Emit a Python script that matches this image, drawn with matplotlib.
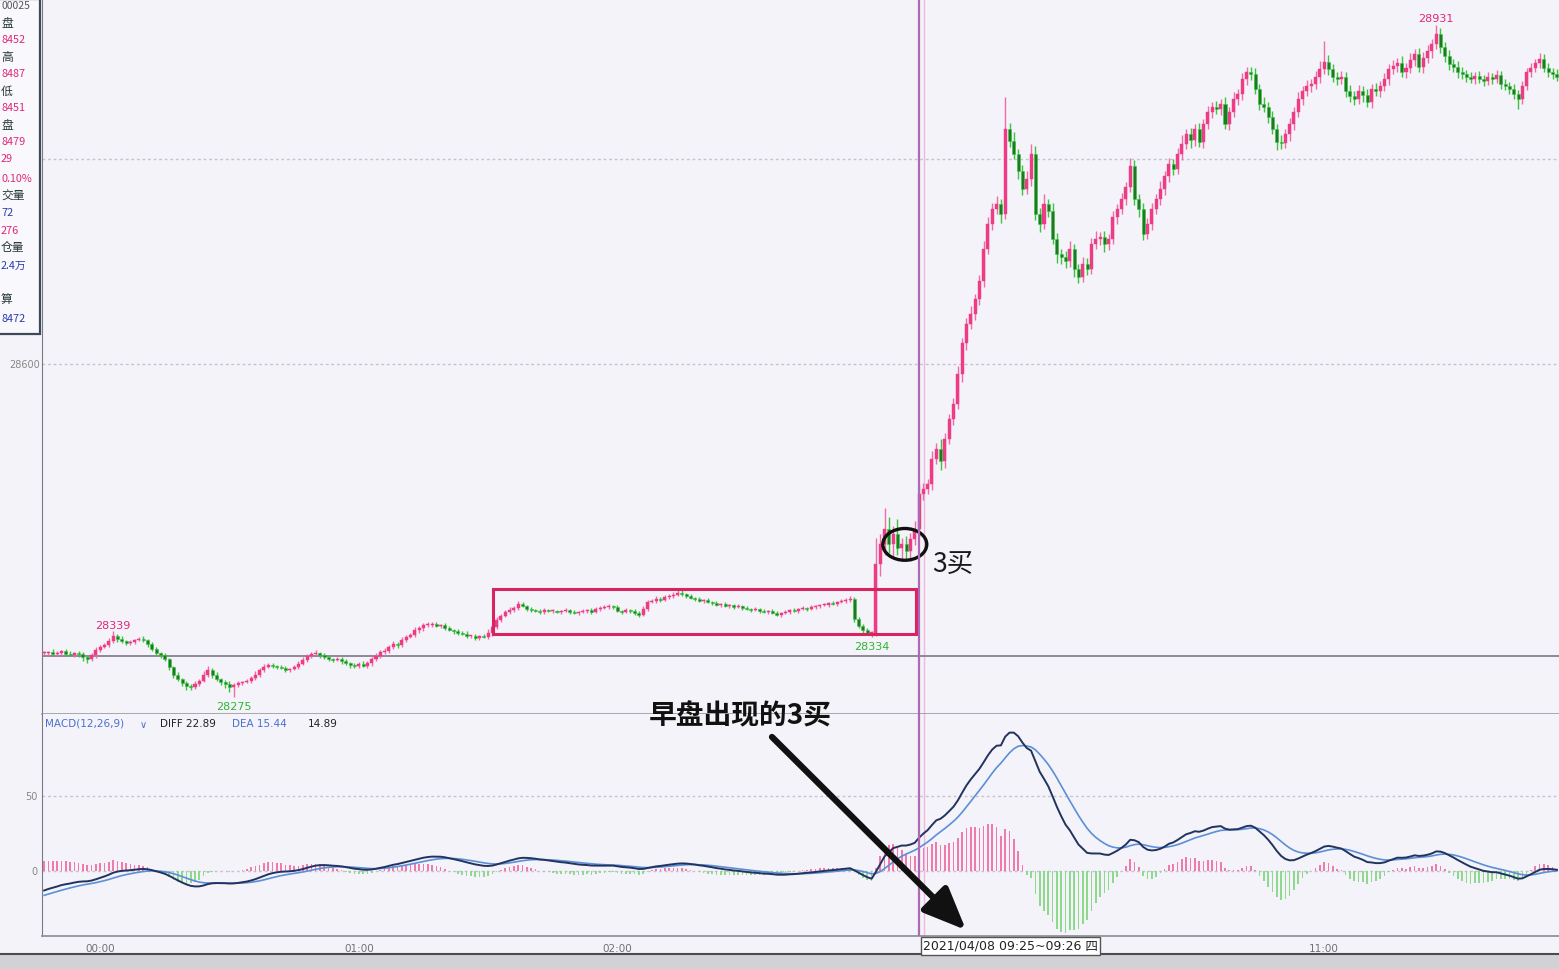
import numpy as np
import matplotlib
matplotlib.use("Agg")
import matplotlib.pyplot as plt
from matplotlib.patches import Rectangle, Ellipse, FancyArrowPatch
from matplotlib.lines import Line2D

plt.rcParams['font.family'] = ['Noto Sans CJK SC', 'DejaVu Sans']

# ---------------- data ----------------
BASE = 28000
FIRST_OPEN = 318
CLOSE_OFFSETS = [
    318, 319, 317, 318, 320, 317, 316, 318, 317, 314,
    312, 316, 321, 324, 326, 330, 335, 332, 330, 328,
    329, 331, 332, 331, 327, 322, 318, 316, 312, 304,
    297, 293, 289, 286, 285, 288, 291, 297, 301, 297,
    293, 290, 288, 285, 287, 289, 290, 291, 294, 297,
    301, 304, 306, 305, 304, 303, 301, 302, 304, 307,
    311, 315, 317, 318, 316, 314, 312, 311, 312, 310,
    308, 306, 305, 307, 305, 308, 312, 315, 319, 320,
    324, 327, 326, 331, 334, 336, 340, 342, 345, 345,
    346, 344, 345, 342, 340, 339, 338, 337, 335, 335,
    333, 335, 334, 338, 343, 350, 354, 358, 360, 362,
    366, 364, 361, 360, 359, 358, 360, 359, 359, 358,
    359, 360, 358, 357, 358, 359, 360, 358, 361, 362,
    363, 364, 363, 359, 358, 360, 359, 357, 355, 361,
    368, 369, 371, 370, 373, 374, 375, 377, 376, 374,
    372, 371, 369, 370, 368, 367, 365, 366, 364, 365,
    363, 364, 362, 361, 360, 361, 359, 358, 359, 357,
    355, 357, 358, 360, 359, 361, 362, 361, 363, 364,
    365, 365, 367, 366, 368, 369, 370, 371, 351, 344,
    340, 338, 338, 405, 424, 439, 424, 434, 420, 424,
    418, 429, 439, 473, 478, 483, 507, 517, 505, 527,
    546, 561, 590, 620, 639, 649, 663, 681, 712, 737,
    751, 756, 746, 829, 818, 805, 788, 771, 780, 805,
    746, 737, 756, 749, 722, 707, 704, 700, 712, 693,
    685, 698, 693, 717, 722, 724, 717, 722, 743, 751,
    761, 773, 793, 761, 751, 727, 737, 751, 761, 771,
    783, 795, 790, 805, 815, 824, 819, 829, 817, 834,
    846, 851, 849, 854, 834, 846, 859, 863, 878, 885,
    883, 868, 854, 851, 841, 829, 817, 816, 824, 834,
    846, 859, 866, 871, 873, 880, 888, 895, 888, 880,
    878, 880, 866, 861, 859, 866, 862, 856, 868, 866,
    871, 878, 888, 891, 894, 885, 889, 897, 902, 890,
    899, 905, 912, 922, 909, 900, 893, 890, 885, 883,
    880, 878, 881, 878, 876, 880, 878, 882, 873, 871,
    868, 863, 859, 871, 885, 889, 894, 898, 889, 885,
    883, 880,
]
UP_WICK = [
    2, 1, 3, 2, 1, 2, 3, 1, 2, 2,
    1, 2, 3, 2, 2, 3, 4, 2, 3, 1,
    2, 1, 2, 3, 1, 2, 2, 1, 2, 1,
    1, 2, 1, 2, 2, 3, 2, 3, 4, 2,
    2, 1, 2, 3, 2, 2, 1, 2, 2, 3,
    2, 3, 2, 2, 1, 2, 2, 1, 2, 3,
    3, 2, 2, 3, 1, 2, 2, 1, 2, 2,
    2, 1, 2, 2, 3, 2, 2, 3, 2, 3,
    2, 3, 2, 3, 2, 2, 3, 2, 2, 3,
    2, 2, 1, 2, 2, 1, 2, 1, 2, 1,
    2, 1, 2, 3, 2, 3, 2, 2, 3, 2,
    3, 2, 1, 2, 1, 2, 2, 1, 2, 1,
    1, 2, 1, 2, 1, 2, 1, 2, 2, 2,
    2, 2, 1, 2, 1, 2, 1, 2, 2, 3,
    2, 2, 3, 2, 2, 2, 3, 2, 2, 1,
    2, 1, 2, 1, 2, 1, 2, 1, 2, 1,
    1, 2, 1, 2, 1, 2, 1, 2, 1, 2,
    2, 1, 2, 1, 2, 1, 2, 1, 2, 1,
    1, 2, 1, 2, 1, 2, 2, 3, 2, 2,
    2, 2, 1, 25, 10, 20, 12, 8, 15, 6,
    8, 6, 8, 10, 6, 5, 8, 6, 10, 6,
    5, 6, 8, 5, 6, 8, 5, 6, 8, 6,
    6, 8, 5, 31, 6, 8, 5, 6, 8, 10,
    8, 6, 10, 5, 8, 6, 5, 6, 8, 5,
    5, 6, 5, 6, 8, 5, 6, 5, 6, 5,
    6, 5, 8, 6, 5, 6, 5, 6, 5, 8,
    5, 6, 5, 6, 8, 5, 6, 5, 6, 5,
    6, 5, 6, 5, 6, 5, 6, 5, 6, 5,
    5, 6, 5, 6, 5, 6, 5, 6, 5, 6,
    5, 6, 5, 6, 5, 6, 8, 20, 6, 5,
    5, 6, 5, 6, 5, 6, 5, 6, 5, 6,
    5, 6, 5, 6, 5, 6, 5, 6, 5, 6,
    5, 6, 5, 9, 6, 5, 6, 5, 6, 5,
    4, 5, 4, 5, 4, 5, 4, 5, 4, 5,
    4, 5, 4, 5, 4, 5, 4, 5, 4, 5,
    4, 5,
]
DOWN_WICK = [
    2, 3, 1, 2, 3, 2, 1, 2, 3, 4,
    4, 2, 3, 2, 1, 2, 2, 3, 2, 2,
    2, 2, 1, 2, 3, 2, 2, 3, 2, 3,
    3, 2, 3, 4, 3, 2, 2, 1, 2, 3,
    2, 3, 4, 5, 10, 2, 2, 1, 2, 2,
    2, 2, 1, 2, 2, 1, 2, 2, 1, 2,
    1, 2, 2, 1, 3, 2, 2, 2, 1, 3,
    2, 3, 2, 2, 1, 2, 3, 2, 2, 2,
    2, 2, 3, 2, 2, 1, 2, 2, 3, 2,
    2, 1, 2, 2, 1, 2, 2, 1, 2, 2,
    2, 2, 1, 2, 3, 2, 2, 1, 2, 2,
    2, 1, 2, 2, 1, 2, 2, 1, 2, 1,
    2, 1, 2, 1, 2, 1, 2, 2, 1, 2,
    1, 2, 2, 1, 2, 1, 2, 2, 2, 1,
    2, 1, 2, 2, 1, 2, 2, 1, 2, 2,
    1, 2, 1, 2, 1, 2, 1, 2, 1, 2,
    2, 1, 2, 1, 2, 1, 2, 1, 2, 1,
    1, 2, 1, 2, 1, 2, 1, 2, 1, 2,
    2, 1, 2, 1, 2, 1, 2, 2, 3, 2,
    2, 2, 4, 3, 12, 10, 8, 12, 6, 10,
    8, 10, 6, 8, 6, 5, 6, 5, 8, 6,
    5, 6, 5, 8, 6, 5, 6, 5, 6, 5,
    6, 5, 8, 5, 6, 5, 8, 6, 5, 6,
    6, 8, 5, 6, 5, 8, 6, 6, 5, 8,
    6, 5, 6, 5, 5, 6, 8, 6, 5, 6,
    5, 6, 5, 6, 8, 6, 5, 6, 5, 6,
    6, 5, 6, 5, 6, 5, 8, 6, 5, 6,
    5, 6, 5, 6, 5, 6, 5, 6, 5, 6,
    6, 5, 6, 5, 6, 5, 8, 6, 5, 6,
    6, 5, 6, 5, 6, 5, 6, 5, 6, 5,
    6, 5, 6, 5, 6, 5, 6, 5, 6, 5,
    6, 5, 6, 5, 6, 5, 6, 5, 6, 5,
    6, 5, 6, 5, 6, 5, 6, 5, 6, 5,
    5, 4, 5, 4, 5, 4, 5, 4, 5, 4,
    5, 4, 10, 5, 4, 5, 4, 5, 4, 5,
    5, 4,
]
X_TICK_BARS = [13, 73, 133, 297]
X_TICK_LABELS = ['00:00', '01:00', '02:00', '11:00']
CURSOR_BAR = 203
CURSOR_LABEL = '2021/04/08 09:25~09:26 四'
REF_LINE_PRICE = 28315
PRICE_GRID = [28600, 28800]
MACD_GRID = [0, 50]
DIFF_START, DEA_START = -14.0, -17.0
BOX_BARS = (104.1, 202.3)
BOX_PRICES = (28336.6, 28380.5)
CIRCLE_CENTER = (199.7, 28424)
CIRCLE_SIZE = (10.2, 31)

INFO_ROWS = [  # (y px, visible text, color, size)
    (3, '00025', '#555555', 7.5),
    (22, '盘', '#2b3838', 8.5),
    (39, '8452', '#e0267a', 7.8),
    (56, '高', '#2b3838', 8.5),
    (73, '8487', '#e0267a', 7.8),
    (90, '低', '#2b3838', 8.5),
    (107, '8451', '#e0267a', 7.8),
    (124, '盘', '#2b3838', 8.5),
    (141, '8479', '#e0267a', 7.8),
    (158, '29', '#e0267a', 7.8),
    (178, '0.10%', '#e0267a', 7.8),
    (195, '交量', '#2b3838', 8.5),
    (212, '72', '#2a3ab0', 7.8),
    (230, '276', '#e0267a', 7.8),
    (247, '仓量', '#2b3838', 8.5),
    (265, '2.4万', '#2a3ab0', 7.8),
    (298, '算', '#2b3838', 8.5),
    (318, '8472', '#2a3ab0', 7.8),
]

# ---------------- figure ----------------
W, H = 1559, 970
BG = '#f3f3f9'
fig = plt.figure(figsize=(W / 100, H / 100), dpi=100, facecolor=BG)


def fx(px):
    return px / W


def fy(py):
    return 1 - py / H


ax = fig.add_axes([fx(42), fy(715), 1 - fx(42), 715 / H], facecolor=BG)
axm = fig.add_axes([fx(42), fy(937), 1 - fx(42), (937 - 715) / H], facecolor=BG, sharex=ax)

close = BASE + np.array(CLOSE_OFFSETS, dtype=float)
n = len(close)
opn = np.r_[BASE + FIRST_OPEN, close[:-1]]
high = np.maximum(opn, close) + np.array(UP_WICK)
low = np.minimum(opn, close) - np.array(DOWN_WICK)
idx = np.arange(n)
up = close >= opn

UP_C, UP_W = '#ee3b86', '#f46aa4'
DN_C, DN_W = '#1c7a22', '#3cc440'

ax.vlines(idx[up], low[up], high[up], color=UP_W, lw=1.0, zorder=3)
ax.vlines(idx[~up], low[~up], high[~up], color=DN_W, lw=1.0, zorder=3)
body_lo = np.minimum(opn, close)
body_h = np.maximum(np.abs(close - opn), 0.9)
ax.bar(idx[up], body_h[up], bottom=body_lo[up], width=0.7, color=UP_C, edgecolor=UP_C, lw=0.3, zorder=4)
ax.bar(idx[~up], body_h[~up], bottom=body_lo[~up], width=0.7, color=DN_C, edgecolor=DN_W, lw=0.4, zorder=4)

ax.set_xlim(-0.5, n - 0.5)
ax.set_ylim(28258.5, 28956.1)
for g in PRICE_GRID:
    ax.axhline(g, color='#c4c4cf', lw=1.0, ls=(0, (2, 2)), zorder=1)
ax.axhline(REF_LINE_PRICE, color='#8a7d92', lw=1.3, zorder=2)

# extreme labels from data
i1 = int(np.argmax(high[:30]))
ax.text(i1, high[i1] + 1, f'{int(high[i1])}', color='#e0267a', fontsize=8, ha='center', va='bottom', family='DejaVu Sans')
i2 = 30 + int(np.argmin(low[30:60]))
ax.text(i2, low[i2] - 4, f'{int(low[i2])}', color='#2fb52f', fontsize=8, ha='center', va='top', family='DejaVu Sans')
i3 = 185 + int(np.argmin(low[185:200]))
ax.text(i3, low[i3] - 4, f'{int(low[i3])}', color='#2fb52f', fontsize=8, ha='center', va='top', family='DejaVu Sans')
i4 = int(np.argmax(high))
ax.text(i4, high[i4] + 2, f'{int(high[i4])}', color='#e0267a', fontsize=8, ha='center', va='bottom', family='DejaVu Sans')

# box, ellipse, 3买
ax.add_patch(Rectangle((BOX_BARS[0], BOX_PRICES[0]), BOX_BARS[1] - BOX_BARS[0], BOX_PRICES[1] - BOX_PRICES[0],
                       fill=False, edgecolor='#d8245e', lw=2.2, zorder=5))
ax.add_patch(Ellipse(CIRCLE_CENTER, CIRCLE_SIZE[0], CIRCLE_SIZE[1], fill=False, edgecolor='#111111', lw=2.4, zorder=6))
ax.text(CIRCLE_CENTER[0] + 6.3, CIRCLE_CENTER[1] - 19, '3买', fontsize=19, color='#1a1a1a', ha='left', va='center', zorder=7)

# y labels
ax.text(-0.0015, 28600, '28600', transform=ax.get_yaxis_transform(), ha='right', va='center', fontsize=7, color='#888888', family='DejaVu Sans')

for a in (ax, axm):
    a.tick_params(left=False, labelleft=False, bottom=False, labelbottom=False)
    for s in ('top', 'right'):
        a.spines[s].set_visible(False)
    a.spines['left'].set_color('#7a7a86')
    a.spines['bottom'].set_color('#9a9aa4')
ax.spines['bottom'].set_linewidth(1.2)

# ---------------- MACD ----------------
e12 = close[0]
e26 = close[0] - DIFF_START
dea_v = DEA_START
diff = np.zeros(n)
dea = np.zeros(n)
for k in range(n):
    e12 += (close[k] - e12) * 2 / 13
    e26 += (close[k] - e26) * 2 / 27
    diff[k] = e12 - e26
    dea_v += (diff[k] - dea_v) * 2 / 10
    dea[k] = dea_v
hist = 2 * (diff - dea)

axm.set_ylim(-43.3, 104.7)
for g in MACD_GRID:
    axm.axhline(g, color='#c8c2d2', lw=1.0, ls=(0, (2, 2)), zorder=1)
pos = hist >= 0
axm.bar(idx[pos], hist[pos], width=0.38, color='#f07aab', zorder=2)
axm.bar(idx[~pos], hist[~pos], width=0.38, color='#8fd98f', zorder=2)
axm.plot(idx, dea, color='#5b8fd8', lw=1.2, zorder=3)
axm.plot(idx, diff, color='#22335e', lw=1.4, zorder=4)
for g in MACD_GRID:
    axm.text(-0.003, g, str(g), transform=axm.get_yaxis_transform(), ha='right', va='center', fontsize=7,
             color='#888888', family='DejaVu Sans')
axm.spines['bottom'].set_color('#8a8a94')
axm.spines['bottom'].set_linewidth(1.2)

axm.tick_params(labelbottom=True, bottom=False, pad=1.5, labelsize=7.5, labelcolor='#707078')
axm.set_xticks(X_TICK_BARS)
axm.set_xticklabels(X_TICK_LABELS, family='DejaVu Sans')

# cursor
for a in (ax, axm):
    a.axvline(CURSOR_BAR, color='#b068b4', lw=1.6, zorder=8)
    a.axvline(CURSOR_BAR + 1.2, color='#f0b8d8', lw=1.0, zorder=1)

fig.text(fx(923), fy(946.5), CURSOR_LABEL, fontsize=9.0, color='#222222', ha='left', va='center',
         family=['DejaVu Sans', 'Noto Sans CJK SC'],
         bbox=dict(boxstyle='square,pad=0.2', facecolor='white', edgecolor='#555555', lw=1.0))

# MACD legend
fig.text(fx(45), fy(724), 'MACD(12,26,9)', fontsize=7.5, color='#4a6fd0', va='center', family='DejaVu Sans')
fig.text(fx(140), fy(725), '∨', fontsize=7, color='#4a6fd0', va='center', family='DejaVu Sans')
fig.text(fx(160), fy(724), 'DIFF 22.89', fontsize=7.5, color='#222222', va='center', family='DejaVu Sans')
fig.text(fx(232), fy(724), 'DEA 15.44', fontsize=7.5, color='#4a6fd0', va='center', family='DejaVu Sans')
fig.text(fx(308), fy(724), '14.89', fontsize=7.5, color='#222222', va='center', family='DejaVu Sans')

# big annotation + arrow
fig.text(fx(740), fy(716), '早盘出现的3买', fontsize=20, fontweight='bold', color='#111111', ha='center', va='center')
arr = FancyArrowPatch((fx(770), fy(736)), (fx(968), fy(933)), transform=fig.transFigure,
                      arrowstyle='-|>,head_length=1.3,head_width=0.55', mutation_scale=20,
                      color='#111111', lw=4.5, zorder=20)
fig.patches.append(arr)

# info box at left
fig.patches.append(Rectangle((fx(-3), fy(335)), fx(43), 335 / H, transform=fig.transFigure,
                             facecolor='#f9f9fd', edgecolor='#3e4a58', lw=1.6, zorder=5))
for (py, txt, col, fs) in INFO_ROWS:
    fig.text(fx(1), fy(py + 1 if py > 5 else py + 3), txt, color=col, fontsize=fs, ha='left', va='center', zorder=6)

# bottom toolbar
fig.patches.append(Rectangle((0, 0), 1, 15 / H, transform=fig.transFigure, facecolor='#d2d2d6',
                             edgecolor='none', zorder=1))
fig.lines.append(Line2D([0, 1], [fy(955), fy(955)], transform=fig.transFigure, color='#4a4a50', lw=1.5))

fig.savefig('out.png', dpi=100, facecolor=BG)
